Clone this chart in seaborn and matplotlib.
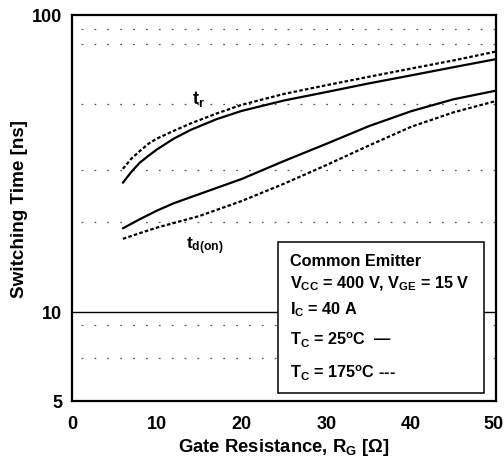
import numpy as np
import pandas as pd
import matplotlib
matplotlib.use("Agg")
import matplotlib.pyplot as plt
import matplotlib.transforms as mtrans
import seaborn as sns
from matplotlib.patches import Rectangle

# ---- data ----
rg_tr = [6, 7, 8, 9, 10, 12, 14, 17, 20, 25, 30, 35, 40, 45, 50]
tr_25 = [27.2, 29.6, 31.8, 33.5, 35.2, 38.3, 41.0, 44.5, 47.5, 51.5, 55.0, 58.8, 62.6, 66.7, 71.0]
tr_175 = [30.3, 32.8, 34.8, 36.8, 38.3, 40.7, 43.1, 46.5, 49.8, 54.2, 58.0, 61.9, 66.0, 70.3, 75.3]

rg_td = [6, 8, 10, 12, 15, 20, 25, 30, 35, 40, 45, 50]
tdon_25 = [19.1, 20.5, 21.9, 23.2, 24.9, 28.0, 32.2, 36.8, 42.2, 47.4, 52.0, 55.6]
tdon_175 = [17.6, 18.4, 19.2, 19.9, 21.0, 23.6, 27.0, 31.2, 36.3, 42.0, 47.0, 51.3]

x_ticks = [0, 10, 20, 30, 40, 50]
y_ticks = [5, 10, 100]
grid_vals = [7, 9, 20, 30, 50, 80, 90]

legend_lines = ["Common Emitter",
                "V$_{CC}$ = 400 V, V$_{GE}$ = 15 V",
                "I$_{C}$ = 40 A",
                "T$_{C}$ = 25$^{o}$C  \u2014",
                "T$_{C}$ = 175$^{o}$C ---"]

sns.set_theme(style="white")
plt.rcParams["font.family"] = ["Liberation Sans", "DejaVu Sans"]
plt.rcParams["font.weight"] = "bold"
plt.rcParams["text.color"] = "black"
plt.rcParams["axes.labelcolor"] = "black"
plt.rcParams["xtick.color"] = "black"
plt.rcParams["ytick.color"] = "black"
plt.rcParams["mathtext.fontset"] = "custom"
for k in ["rm", "it", "bf", "sf"]:
    plt.rcParams["mathtext." + k] = "Liberation Sans:bold"

fig = plt.figure(figsize=(5.04, 4.6), dpi=100)
ax = fig.add_axes([72/504, 1-402/460, 424/504, 386/460])

df = pd.concat([
    pd.DataFrame({"rg": rg_tr, "t": tr_25, "curve": "tr25"}),
    pd.DataFrame({"rg": rg_tr, "t": tr_175, "curve": "tr175"}),
    pd.DataFrame({"rg": rg_td, "t": tdon_25, "curve": "td25"}),
    pd.DataFrame({"rg": rg_td, "t": tdon_175, "curve": "td175"}),
])

dash = (0, (1.6, 1.0))
for name, ls in [("tr25", "-"), ("tr175", dash), ("td25", "-"), ("td175", dash)]:
    sub = df[df["curve"] == name]
    sns.lineplot(data=sub, x="rg", y="t", ax=ax, color="black",
                 linewidth=1.6, linestyle=ls, zorder=3)

ax.set_yscale("log")
ax.set_xlim(0, 50)
ax.set_ylim(5, 100)

for g in grid_vals:
    ax.axhline(g, color="#555555", linewidth=0.9, linestyle=(3, (1.4, 8.9)), zorder=1)
ax.axhline(10, color="black", linewidth=1.0, zorder=1)

ax.set_xticks(x_ticks)
ax.set_xticklabels([str(v) for v in x_ticks])
ax.set_yticks(y_ticks)
ax.set_yticklabels([str(v) for v in y_ticks])
ax.yaxis.set_minor_locator(matplotlib.ticker.NullLocator())
ax.tick_params(axis="both", length=0, labelsize=13)
ax.tick_params(axis="x", pad=10)
ax.tick_params(axis="y", pad=7)
for lab in ax.get_xticklabels() + ax.get_yticklabels():
    lab.set_fontweight("bold")
last = ax.get_xticklabels()[-1]
last.set_transform(last.get_transform() +
                   mtrans.ScaledTranslation(-2.5/100, 0, fig.dpi_scale_trans))

for s in ax.spines.values():
    s.set_visible(True)
    s.set_color("black")
    s.set_linewidth(1.6)

ax.set_xlabel("Gate Resistance, R$_{G}$ [\u03a9]", fontsize=13.3, fontweight="bold", labelpad=3)
ax.set_ylabel("Switching Time [ns]", fontsize=13.6, fontweight="bold", labelpad=3)

ax.text(14.1, 50.5, "t$_{r}$", fontsize=13, ha="left", va="baseline", zorder=5)
ax.text(13.5, 16.3, "t$_{d(on)}$", fontsize=12.5, ha="left", va="baseline", zorder=5)

rect = Rectangle((0.486, 0.021), 0.486, 0.392, transform=ax.transAxes,
                 facecolor="white", edgecolor="black", linewidth=1.1, zorder=4)
ax.add_patch(rect)
ys = [0.363, 0.306, 0.238, 0.160, 0.075]
for y, s in zip(ys, legend_lines):
    ax.text(0.514, y, s, transform=ax.transAxes, fontsize=11.7,
            ha="left", va="center", zorder=5)

fig.savefig("out.png", dpi=100)
